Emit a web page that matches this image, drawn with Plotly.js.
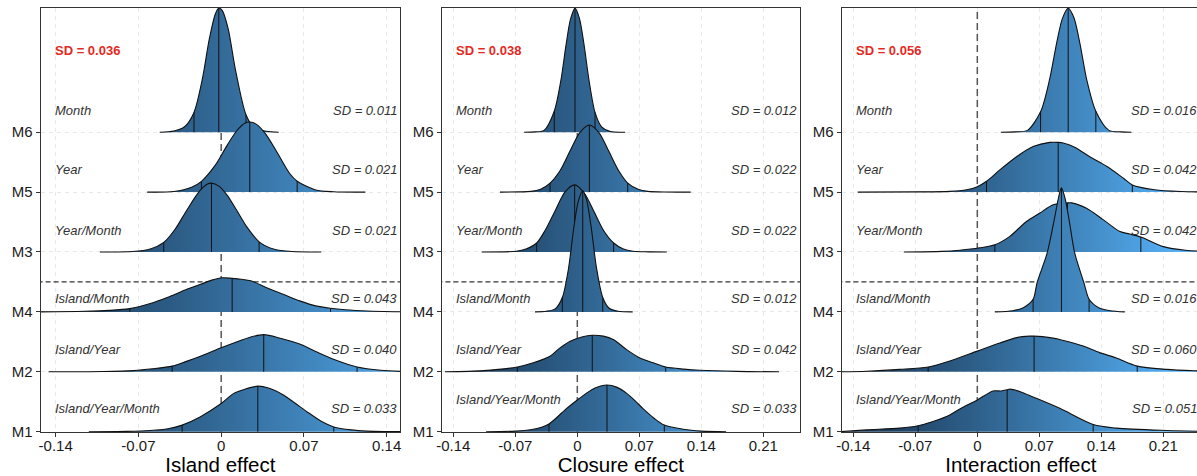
<!DOCTYPE html>
<html>
<head>
<meta charset="utf-8">
<script src="https://cdn.plot.ly/plotly-3.0.1.min.js"></script>
<style>
html,body{margin:0;padding:0;overflow:hidden;background:#fff;}
#chart{width:1201px;height:476px;}
</style>
</head>
<body>
<div id="chart"></div>
<script>
// ---------------- DATA (rows listed bottom -> top) ----------------
const models = ['M1', 'M2', 'M4', 'M3', 'M5', 'M6'];
const modelLabels = ['Island/Year/Month', 'Island/Year', 'Island/Month', 'Year/Month', 'Year', 'Month'];
const effectTitles = ['Island effect', 'Closure effect', 'Interaction effect'];
const overallSD = ['0.036', '0.038', '0.056'];
const islandSD = ['0.033', '0.040', '0.043', '0.021', '0.021', '0.011'];
const closureSD = ['0.033', '0.042', '0.012', '0.022', '0.022', '0.012'];
const interactionSD = ['0.051', '0.060', '0.016', '0.042', '0.042', '0.016'];
const islandTicks = [-0.14, -0.07, 0, 0.07, 0.14];
const islandTickText = ['-0.14', '-0.07', '0', '0.07', '0.14'];
const wideTicks = [-0.14, -0.07, 0, 0.07, 0.14, 0.21];
const wideTickText = ['-0.14', '-0.07', '0', '0.07', '0.14', '0.21'];

// Island effect densities (x = effect, h = ridge height in row units), q = 2.5%, 50%, 97.5% quantiles
const islandM1x = [-0.112, -0.080, -0.060, -0.045, -0.033, -0.0175, 0.0, 0.0107, 0.020, 0.031, 0.040, 0.053, 0.063, 0.0728, 0.085, 0.0953, 0.110, 0.1235, 0.140, 0.16];
const islandM1h = [0, 0.005, 0.02, 0.05, 0.11, 0.25, 0.47, 0.64, 0.71, 0.76, 0.73, 0.61, 0.47, 0.33, 0.17, 0.08, 0.03, 0.01, 0.003, 0];
const islandM1q = [-0.033, 0.031, 0.0953];
const islandM2x = [-0.146, -0.100, -0.074, -0.058, -0.0415, -0.030, -0.0175, 0.0, 0.0107, 0.025, 0.036, 0.050, 0.067, 0.081, 0.095, 0.115, 0.135, 0.155, 0.17];
const islandM2h = [0, 0.005, 0.02, 0.05, 0.095, 0.17, 0.26, 0.40, 0.48, 0.58, 0.62, 0.56, 0.46, 0.33, 0.21, 0.08, 0.025, 0.005, 0];
const islandM2q = [-0.0415, 0.036, 0.115];
const islandM4x = [-0.155, -0.116, -0.095, -0.0773, -0.06, -0.0457, -0.03, -0.0175, -0.008, 0.001, 0.0093, 0.017, 0.025, 0.039, 0.053, 0.067, 0.08, 0.0925, 0.105, 0.1235, 0.155];
const islandM4h = [0, 0.01, 0.025, 0.055, 0.14, 0.24, 0.37, 0.46, 0.53, 0.57, 0.56, 0.545, 0.52, 0.40, 0.29, 0.18, 0.10, 0.06, 0.035, 0.015, 0];
const islandM4q = [-0.0773, 0.0093, 0.0925];
const islandM3x = [-0.1027, -0.075, -0.060, -0.0486, -0.039, -0.029, -0.019, -0.012, -0.0082, -0.002, 0.005, 0.013, 0.022, 0.0321, 0.045, 0.060, 0.0846];
const islandM3h = [0, 0.007, 0.05, 0.16, 0.38, 0.70, 1.00, 1.13, 1.15, 1.10, 0.95, 0.70, 0.41, 0.17, 0.045, 0.007, 0];
const islandM3q = [-0.0486, -0.0082, 0.0321];
const islandM5x = [-0.0626, -0.040, -0.025, -0.0167, -0.005, 0.005, 0.013, 0.020, 0.0242, 0.030, 0.038, 0.048, 0.058, 0.0643, 0.080, 0.095, 0.122];
const islandM5h = [0, 0.01, 0.08, 0.18, 0.45, 0.78, 1.02, 1.15, 1.17, 1.13, 0.96, 0.64, 0.31, 0.18, 0.035, 0.005, 0];
const islandM5q = [-0.0167, 0.0242, 0.0643];
const islandM6x = [-0.052, -0.040, -0.031, -0.023, -0.016, -0.010, -0.005, -0.002, 0.001, 0.006, 0.012, 0.021, 0.028, 0.038, 0.0487];
const islandM6h = [0, 0.02, 0.09, 0.33, 0.88, 1.56, 1.97, 2.07, 2.03, 1.72, 1.05, 0.29, 0.07, 0.015, 0];
const islandM6q = [-0.023, -0.002, 0.021];

// Closure effect densities
const closureM1x = [-0.103, -0.07, -0.0497, -0.032, -0.012, 0.0, 0.010, 0.020, 0.0335, 0.045, 0.0558, 0.065, 0.0745, 0.087, 0.0982, 0.1197, 0.140, 0.168];
const closureM1h = [0, 0.01, 0.04, 0.13, 0.39, 0.53, 0.64, 0.73, 0.78, 0.74, 0.64, 0.52, 0.38, 0.22, 0.11, 0.04, 0.01, 0];
const closureM1q = [-0.032, 0.0335, 0.0982];
const closureM2x = [-0.1494, -0.106, -0.0677, -0.0497, -0.0308, -0.0195, -0.008, 0.005, 0.0169, 0.0294, 0.0406, 0.0557, 0.0707, 0.0858, 0.0998, 0.12, 0.1385, 0.18, 0.2277];
const closureM2h = [0, 0.02, 0.08, 0.15, 0.26, 0.40, 0.51, 0.58, 0.61, 0.595, 0.54, 0.37, 0.23, 0.15, 0.08, 0.045, 0.025, 0.007, 0];
const closureM2q = [-0.0677, 0.0169, 0.0998];
const closureM4x = [-0.0478, -0.035, -0.025, -0.0169, -0.010, -0.004, 0.001, 0.0061, 0.0106, 0.0156, 0.0216, 0.0287, 0.036, 0.046, 0.0625];
const closureM4h = [0, 0.01, 0.05, 0.24, 0.72, 1.40, 1.84, 2.02, 1.86, 1.42, 0.74, 0.24, 0.06, 0.01, 0];
const closureM4q = [-0.0169, 0.0061, 0.0287];
const closureM3x = [-0.108, -0.069, -0.058, -0.0459, -0.036, -0.025, -0.014, -0.003, 0.008, 0.019, 0.030, 0.041, 0.052, 0.063, 0.080, 0.101];
const closureM3h = [0, 0.013, 0.05, 0.15, 0.37, 0.69, 1.00, 1.12, 0.98, 0.67, 0.35, 0.15, 0.05, 0.012, 0.002, 0];
const closureM3q = [-0.0459, -0.003, 0.041];
const closureM5x = [-0.0873, -0.0524, -0.0414, -0.0308, -0.0194, -0.0084, 0.0026, 0.0136, 0.0246, 0.0356, 0.0466, 0.0569, 0.0686, 0.0796, 0.0986, 0.128];
const closureM5h = [0, 0.012, 0.049, 0.15, 0.36, 0.68, 0.99, 1.12, 0.99, 0.68, 0.36, 0.15, 0.049, 0.012, 0.001, 0];
const closureM5q = [-0.0308, 0.0136, 0.0569];
const closureM6x = [-0.060, -0.0476, -0.0376, -0.026, -0.0186, -0.0126, -0.0076, -0.0026, 0.0024, 0.0074, 0.0134, 0.020, 0.0274, 0.0374, 0.054];
const closureM6h = [0, 0.005, 0.03, 0.35, 0.86, 1.47, 1.89, 2.07, 1.90, 1.48, 0.85, 0.33, 0.09, 0.01, 0];
const closureM6q = [-0.026, -0.0026, 0.020];

// Interaction effect densities
const interactionM1x = [-0.155, -0.125, -0.0875, -0.0668, -0.050, -0.031, -0.0198, 0.0, 0.0178, 0.027, 0.0337, 0.037, 0.050, 0.063, 0.0931, 0.1308, 0.157, 0.2136, 0.27];
const interactionM1h = [0, 0.03, 0.06, 0.10, 0.17, 0.28, 0.38, 0.53, 0.68, 0.68, 0.70, 0.71, 0.66, 0.58, 0.39, 0.12, 0.06, 0.02, 0];
const interactionM1q = [-0.0668, 0.0337, 0.1308];
const interactionM2x = [-0.155, -0.125, -0.0875, -0.0555, -0.031, 0.0, 0.0254, 0.0443, 0.0593, 0.0641, 0.0819, 0.1007, 0.1195, 0.138, 0.157, 0.1805, 0.2136, 0.2475, 0.28];
const interactionM2h = [0, 0.01, 0.04, 0.08, 0.18, 0.345, 0.48, 0.57, 0.595, 0.595, 0.57, 0.51, 0.43, 0.32, 0.23, 0.095, 0.04, 0.015, 0];
const interactionM2q = [-0.0555, 0.0641, 0.1805];
const interactionM4x = [0.0198, 0.040, 0.052, 0.063, 0.0675, 0.0788, 0.087, 0.092, 0.095, 0.099, 0.104, 0.110, 0.1203, 0.1262, 0.137, 0.150, 0.1665];
const interactionM4h = [0, 0.02, 0.07, 0.21, 0.49, 0.98, 1.55, 1.93, 2.07, 1.90, 1.50, 0.98, 0.49, 0.21, 0.07, 0.02, 0];
const interactionM4q = [0.063, 0.095, 0.1262];
const interactionM3x = [-0.083, -0.04, -0.0198, 0.0028, 0.0198, 0.0367, 0.0555, 0.0706, 0.0856, 0.1018, 0.1064, 0.1233, 0.142, 0.161, 0.172, 0.1846, 0.21, 0.235, 0.28];
const interactionM3h = [0, 0.01, 0.03, 0.07, 0.12, 0.26, 0.51, 0.65, 0.79, 0.82, 0.82, 0.73, 0.54, 0.34, 0.30, 0.25, 0.09, 0.03, 0];
const interactionM3q = [0.0198, 0.1018, 0.1846];
const interactionM5x = [-0.135, -0.07, -0.031, -0.012, 0.0, 0.0104, 0.0254, 0.0443, 0.063, 0.0819, 0.0913, 0.0969, 0.110, 0.127, 0.146, 0.165, 0.175, 0.2, 0.23, 0.27];
const interactionM5h = [0, 0.003, 0.012, 0.04, 0.09, 0.18, 0.37, 0.59, 0.76, 0.83, 0.83, 0.82, 0.75, 0.59, 0.43, 0.23, 0.12, 0.04, 0.01, 0];
const interactionM5q = [0.0104, 0.0913, 0.175];
const interactionM6x = [0.0265, 0.0426, 0.0566, 0.0714, 0.0816, 0.0896, 0.0961, 0.1026, 0.1091, 0.1156, 0.1236, 0.1338, 0.1486, 0.1626, 0.174];
const interactionM6h = [0, 0.005, 0.03, 0.34, 0.88, 1.49, 1.90, 2.07, 1.91, 1.50, 0.87, 0.35, 0.03, 0.005, 0];
const interactionM6q = [0.0714, 0.1026, 0.1338];

// ---------------- BUILD ----------------
const FONT = 'Liberation Sans, Arial, Helvetica, sans-serif';
const W = 1201, H = 476;
const colorscale = [[0, '#132B43'], [0.25, '#234A6E'], [0.5, '#336A98'], [0.75, '#448DC7'], [1, '#56B1F7']];

const panels = [
  { s: '', px: [40.7, 400], range: [-0.1527, 0.1513], ticks: islandTicks, tickText: islandTickText, grad: [-0.19, 0.19],
    xs: [islandM1x, islandM2x, islandM4x, islandM3x, islandM5x, islandM6x],
    hs: [islandM1h, islandM2h, islandM4h, islandM3h, islandM5h, islandM6h],
    qs: [islandM1q, islandM2q, islandM4q, islandM3q, islandM5q, islandM6q],
    sd: islandSD, labelX: -0.1419, sdX: 0.1502, m1LabelOff: 0.39 },
  { s: '2', px: [441.7, 800], range: [-0.1531, 0.2514], ticks: wideTicks, tickText: wideTickText, grad: [-0.17, 0.23],
    xs: [closureM1x, closureM2x, closureM4x, closureM3x, closureM5x, closureM6x],
    hs: [closureM1h, closureM2h, closureM4h, closureM3h, closureM5h, closureM6h],
    qs: [closureM1q, closureM2q, closureM4q, closureM3q, closureM5q, closureM6q],
    sd: closureSD, labelX: -0.139, sdX: 0.2500, m1LabelOff: 0.53 },
  { s: '3', px: [841.7, 1200], range: [-0.1531, 0.2514], ticks: wideTicks, tickText: wideTickText, grad: [-0.17, 0.23],
    xs: [interactionM1x, interactionM2x, interactionM4x, interactionM3x, interactionM5x, interactionM6x],
    hs: [interactionM1h, interactionM2h, interactionM4h, interactionM3h, interactionM5h, interactionM6h],
    qs: [interactionM1q, interactionM2q, interactionM4q, interactionM3q, interactionM5q, interactionM6q],
    sd: interactionSD, labelX: -0.139, sdX: 0.2500, m1LabelOff: 0.53 }
];

function interp(xs, hs, q) {
  for (let k = 0; k < xs.length - 1; k++) {
    if (q >= xs[k] && q <= xs[k + 1]) {
      const t = (q - xs[k]) / (xs[k + 1] - xs[k]);
      return hs[k] + t * (hs[k + 1] - hs[k]);
    }
  }
  return 0;
}

const yRange = [0.995, 8.073];
const traces = [];
const annotations = [];
const layout = {
  width: W, height: H,
  margin: { l: 0, r: 0, t: 0, b: 0 },
  paper_bgcolor: '#ffffff', plot_bgcolor: '#ffffff',
  showlegend: false,
  font: { family: FONT, color: '#1a1a1a' },
  hovermode: false
};
const yDomain = [(H - 432) / H, (H - 8) / H];
const sdLabelOff = [0.39, 0.38, 0.227, 0.367, 0.37, 0.354];
const nameLabelOff = [null, 0.38, 0.227, 0.367, 0.37, 0.354];

panels.forEach((p, pi) => {
  const xa = 'x' + p.s, ya = 'y' + p.s;
  // reference lines (below ridges)
  traces.push({ x: [0, 0], y: [yRange[0] - 1, yRange[1] + 1], mode: 'lines', xaxis: xa, yaxis: ya,
    line: { color: '#555555', width: 1.5, dash: '7px,4px' }, hoverinfo: 'skip' });
  traces.push({ x: [p.range[0] - 0.05, p.range[1] + 0.05], y: [3.5, 3.5], mode: 'lines', xaxis: xa, yaxis: ya,
    line: { color: '#333333', width: 1.2, dash: '5px,3px' }, hoverinfo: 'skip' });
  // ridges drawn top -> bottom so lower ridges overlay upper ones
  for (let i = 5; i >= 0; i--) {
    const base = i + 1;
    const xs = p.xs[i], hs = p.hs[i];
    const ys = hs.map(h => base + h);
    traces.push({ x: xs, y: ys, mode: 'lines', fill: 'toself', xaxis: xa, yaxis: ya,
      line: { width: 0, shape: 'spline', smoothing: 0.8, color: 'rgba(0,0,0,0)' },
      fillgradient: { type: 'horizontal', colorscale: colorscale, start: p.grad[0], stop: p.grad[1] },
      hoverinfo: 'skip' });
    traces.push({ x: xs, y: ys, mode: 'lines', xaxis: xa, yaxis: ya,
      line: { color: '#111111', width: 1.1, shape: 'spline', smoothing: 0.8 }, hoverinfo: 'skip' });
    const qx = [], qy = [];
    p.qs[i].forEach(q => { qx.push(q, q, null); qy.push(base, base + interp(xs, hs, q), null); });
    traces.push({ x: qx, y: qy, mode: 'lines', xaxis: xa, yaxis: ya,
      line: { color: '#111111', width: 1 }, hoverinfo: 'skip' });
  }
  // axes
  layout['xaxis' + p.s] = {
    domain: [p.px[0] / W, p.px[1] / W], range: p.range, anchor: ya,
    tickmode: 'array', tickvals: p.ticks, ticktext: p.tickText,
    ticks: 'outside', ticklen: 4, tickwidth: 1, tickcolor: '#333333',
    ticklabelstandoff: -4,
    showline: true, linecolor: '#333333', linewidth: 1.2, mirror: true,
    showgrid: true, gridcolor: '#e4e4e4', gridwidth: 0.8, griddash: '4px,4px', zeroline: false,
    tickfont: { family: FONT, size: 15, color: '#1a1a1a' },
    title: { text: effectTitles[pi], font: { family: FONT, size: 20.5, color: '#000000' }, standoff: 4 },
    automargin: false, fixedrange: true
  };
  layout['yaxis' + p.s] = {
    domain: yDomain, range: yRange, anchor: xa,
    tickmode: 'array', tickvals: [1, 2, 3, 4, 5, 6], ticktext: models,
    ticks: 'outside', ticklen: 4, tickwidth: 1, tickcolor: '#333333',
    showline: true, linecolor: '#333333', linewidth: 1.2, mirror: true,
    showgrid: true, gridcolor: '#e4e4e4', gridwidth: 0.8, griddash: '4px,4px', zeroline: false,
    tickfont: { family: FONT, size: 15, color: '#1a1a1a' },
    automargin: false, fixedrange: true
  };
  // labels
  annotations.push({ xref: xa, yref: ya, x: p.labelX, y: 7.36, xanchor: 'left', yanchor: 'middle', showarrow: false,
    text: '<b>SD = ' + overallSD[pi] + '</b>', font: { family: FONT, size: 13, color: '#e4291e' } });
  for (let i = 0; i < 6; i++) {
    const nOff = i === 0 ? p.m1LabelOff : nameLabelOff[i];
    annotations.push({ xref: xa, yref: ya, x: p.labelX, y: i + 1 + nOff, xanchor: 'left', yanchor: 'middle', showarrow: false,
      text: '<i>' + modelLabels[i] + '</i>', font: { family: FONT, size: 13, color: '#333333' } });
    annotations.push({ xref: xa, yref: ya, x: p.sdX, y: i + 1 + sdLabelOff[i], xanchor: 'right', yanchor: 'middle', showarrow: false,
      text: '<i>SD = ' + p.sd[i] + '</i>', font: { family: FONT, size: 13, color: '#333333' } });
  }
});
layout.annotations = annotations;

Plotly.newPlot('chart', traces, layout, { staticPlot: true, displayModeBar: false });
</script>
</body>
</html>
